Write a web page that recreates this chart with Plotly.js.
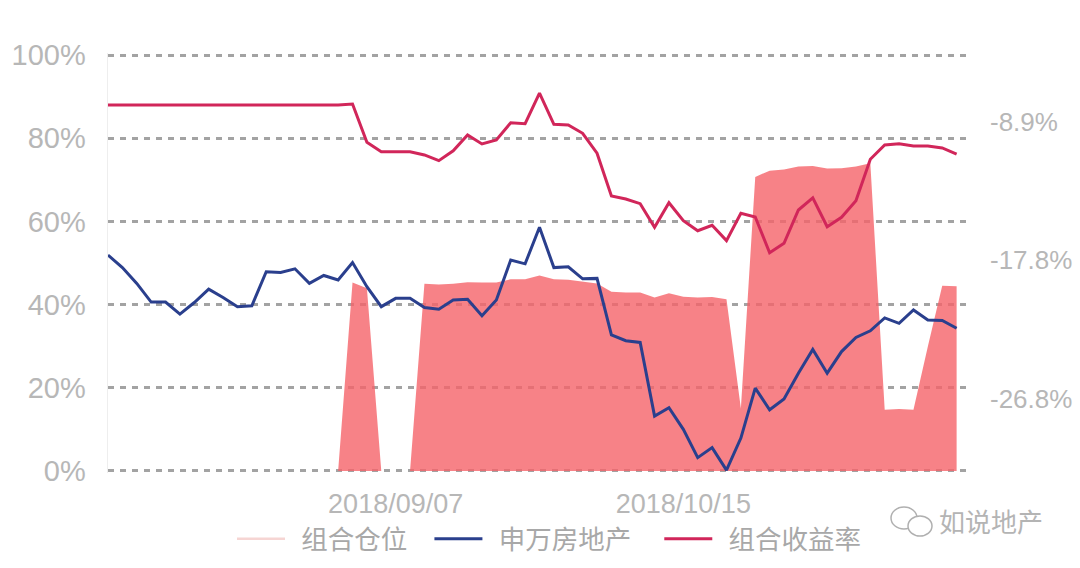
<!DOCTYPE html>
<html><head><meta charset="utf-8">
<script src="https://cdn.plot.ly/plotly-3.0.1.min.js"></script>
<style>html,body{margin:0;padding:0;background:#fff}#c{width:1080px;height:568px}</style>
</head><body><div id="c"></div>
<script>
const dates = ["2018/08/10","2018/08/13","2018/08/14","2018/08/15","2018/08/16","2018/08/17",
"2018/08/20","2018/08/21","2018/08/22","2018/08/23","2018/08/24",
"2018/08/27","2018/08/28","2018/08/29","2018/08/30","2018/08/31",
"2018/09/03","2018/09/04","2018/09/05","2018/09/06","2018/09/07",
"2018/09/10","2018/09/11","2018/09/12","2018/09/13","2018/09/14",
"2018/09/17","2018/09/18","2018/09/19","2018/09/20","2018/09/21",
"2018/09/25","2018/09/26","2018/09/27","2018/09/28",
"2018/10/08","2018/10/09","2018/10/10","2018/10/11","2018/10/12",
"2018/10/15","2018/10/16","2018/10/17","2018/10/18","2018/10/19",
"2018/10/22","2018/10/23","2018/10/24","2018/10/25","2018/10/26",
"2018/10/29","2018/10/30","2018/10/31","2018/11/01","2018/11/02",
"2018/11/05","2018/11/06","2018/11/07","2018/11/08","2018/11/09"];
const position = [0,0,0,0,0,0,0,0,0,0,0,0,0,0,0,0,0,45.3,43.9,0,
0,0,45,44.8,45,45.4,45.3,45.3,46.1,46.1,47,46.1,46,45.5,45.1,43.1,42.9,42.9,41.7,42.7,
41.9,41.7,41.8,41.3,15,70.7,72.2,72.5,73.2,73.3,72.7,72.8,73.2,74,14.7,14.9,14.7,29.9,44.5,44.4];
const index = [51.9,48.9,45.1,40.6,40.6,37.7,40.5,43.7,41.7,39.5,39.7,47.9,47.7,48.6,45.1,47,45.9,50.1,44.3,39.5,
41.5,41.5,39.3,38.9,41.1,41.3,37.3,41.1,50.7,49.8,58.6,48.9,49.1,46.2,46.3,32.7,31.3,30.9,13.2,15.2,
10,3.2,5.6,0.2,7.9,19.9,14.7,17.3,23.5,29.2,23.5,28.7,32.1,33.7,36.8,35.5,38.7,36.3,36.2,34.3];
const returns = [-7.8,-7.8,-7.8,-7.8,-7.8,-7.8,-7.8,-7.8,-7.8,-7.8,-7.8,-7.8,-7.8,-7.8,-7.8,-7.8,-7.8,-7.74,-10.21,-10.82,
-10.82,-10.82,-11.03,-11.4,-10.76,-9.74,-10.32,-10.06,-8.95,-9.01,-7.04,-9.05,-9.09,-9.63,-10.92,-13.68,-13.88,-14.18,-15.71,-14.12,
-15.28,-15.93,-15.58,-16.57,-14.8,-15.04,-17.35,-16.74,-14.59,-13.81,-15.67,-15.06,-13.99,-11.31,-10.39,-10.3,-10.45,-10.45,-10.58,-10.97];
const leftTicks = [0,20,40,60,80,100];
const leftLabels = ["0%","20%","40%","60%","80%","100%"];
const rightTicks = [-8.9,-17.8,-26.8];
const rightLabels = ["-8.9%","-17.8%","-26.8%"];
const xTicks = ["2018/09/07","2018/10/15"];
const names = ["组合仓位","申万房地产","组合收益率"];

const gray = "#b7b7b7";
const fontL = "Liberation Sans, Arial, sans-serif";
const fontC = "'Noto Sans CJK SC', sans-serif";
const lead = "\u00a0\u2009";
const trail1 = "\u00a0\u00a0\u2009", trail2 = "\u00a0\u00a0\u00a0\u2009";
const px = x => (x-108)/863, py = y => (473-y)/420;
const traces = [
 {x:dates,y:position,type:"scatter",mode:"lines",fill:"tozeroy",fillcolor:"rgba(245,99,105,0.8)",line:{width:0,color:"rgba(0,0,0,0)"},showlegend:false,hoverinfo:"skip"},
 {x:[dates[0]],y:[null],type:"scatter",mode:"lines",name:lead+names[0]+trail1,line:{color:"#f6d5d3",width:2.5}},
 {x:dates,y:index,type:"scatter",mode:"lines",name:lead+names[1]+trail2,line:{color:"#2a3f8d",width:3}},
 {x:dates,y:returns,yaxis:"y2",type:"scatter",mode:"lines",name:lead+names[2],line:{color:"#d1265a",width:3}}
];
const layout = {
 width:1080,height:568,paper_bgcolor:"#fff",plot_bgcolor:"#fff",
 margin:{l:108,r:109,t:53,b:95,autoexpand:false},
 font:{family:fontL,color:gray},
 xaxis:{type:"category",categoryorder:"array",categoryarray:dates,range:[0,60],tickmode:"array",tickvals:xTicks,ticktext:xTicks,
  tickfont:{size:27,color:gray,family:fontL},ticks:"",showgrid:false,zeroline:false,showline:false,ticklabelstandoff:12},
 yaxis:{range:[-0.5,100.5],tickmode:"array",tickvals:leftTicks,ticktext:leftLabels,tickfont:{size:29,color:gray,family:fontL},
  showgrid:true,gridcolor:"#a3a3a3",gridwidth:3,griddash:"6px,6px",zeroline:false,showline:true,linecolor:"#eeeeee",linewidth:1.5,ticks:"",ticklabelstandoff:15},
 yaxis2:{overlaying:"y",side:"right",range:[-31.59,-4.44],tickmode:"array",tickvals:rightTicks,ticktext:rightLabels,tickfont:{size:26,color:gray,family:fontL},
  showgrid:false,zeroline:false,showline:false,ticks:"",ticklabelstandoff:18},
 legend:{orientation:"h",x:px(232),xanchor:"left",y:py(515),yanchor:"top",itemwidth:48,bgcolor:"rgba(0,0,0,0)",font:{size:26.5,color:"#a8a8a8",family:fontC},itemclick:false},
 annotations:[{xref:"paper",yref:"paper",x:px(937),y:py(520),xanchor:"left",yanchor:"middle",showarrow:false,text:"如说地产",font:{size:26,color:"#b4b4b4",family:fontC}}],
 shapes:[
  {type:"circle",xref:"paper",yref:"paper",x0:px(891),x1:px(917),y0:py(529),y1:py(507),line:{color:"#b0b0b0",width:1.5},fillcolor:"#fff"},
  {type:"circle",xref:"paper",yref:"paper",x0:px(908),x1:px(932),y0:py(536),y1:py(516),line:{color:"#b0b0b0",width:1.5},fillcolor:"#fff"}
 ],
 showlegend:true
};
Plotly.newPlot("c",traces,layout,{displayModeBar:false,staticPlot:true});
</script></body></html>
